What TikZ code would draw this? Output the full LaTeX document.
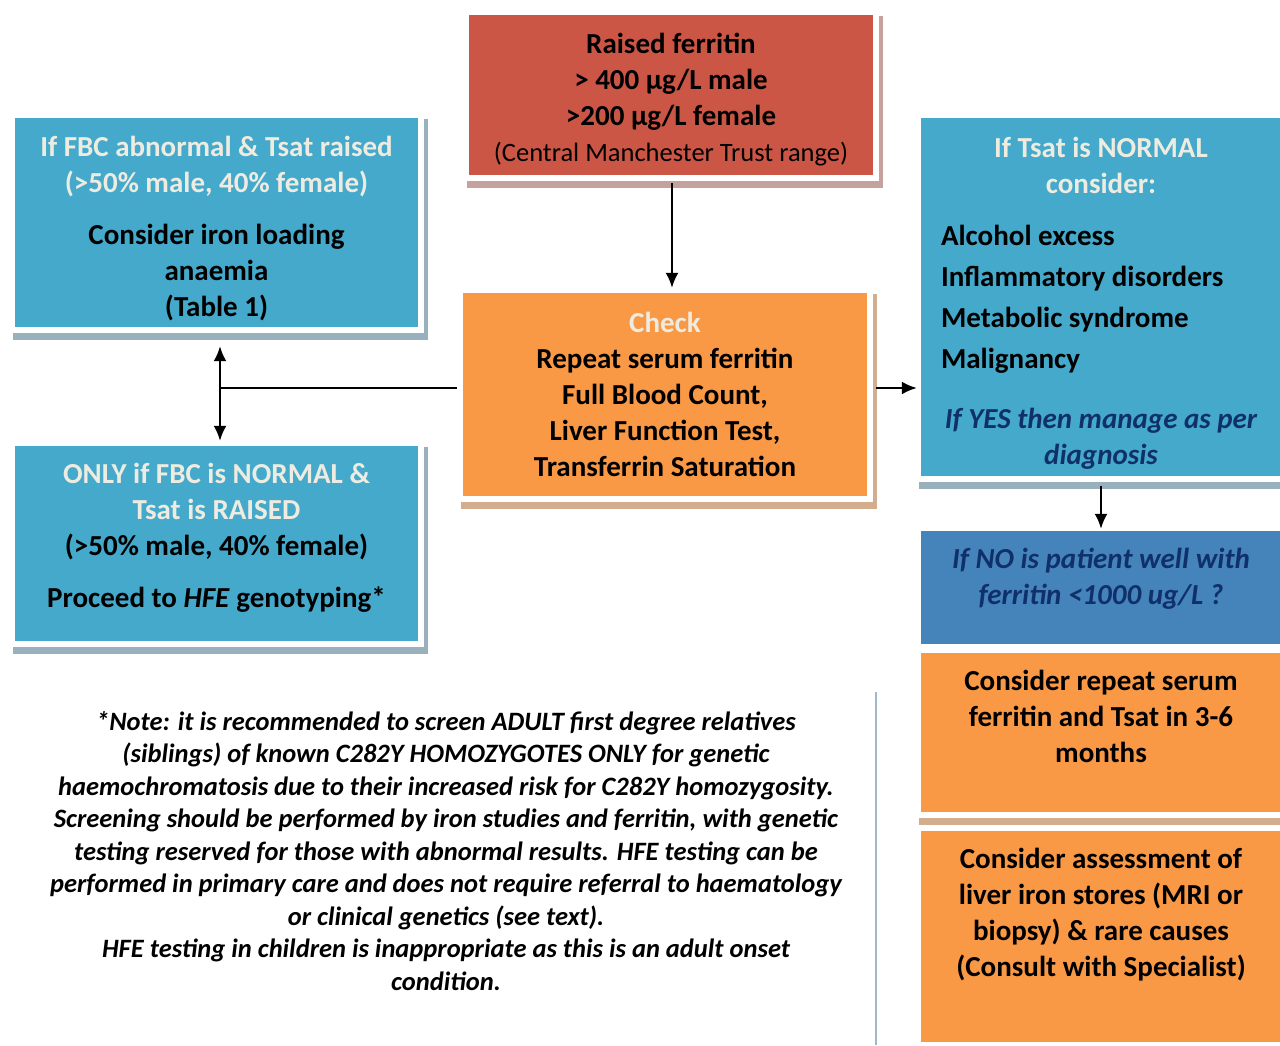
\documentclass[tikz,border=0pt]{standalone}
\usepackage{fontspec}
\setmainfont{Carlito}
\usepackage{tikz}
\usetikzlibrary{calc,arrows.meta}

\definecolor{ferritinred}{HTML}{CC5645}
\definecolor{checkorange}{HTML}{F99845}
\definecolor{tsatblue}{HTML}{44A9CB}
\definecolor{wellblue}{HTML}{4583BB}
\definecolor{creamtext}{HTML}{EEECE1}
\definecolor{navytext}{HTML}{10306A}
\definecolor{redshadow}{HTML}{C5A29E}
\definecolor{orangeshadow}{HTML}{D2AD8E}
\definecolor{blueshadow}{HTML}{98B1BC}
\definecolor{ruleblue}{HTML}{A3B7CA}

\begin{document}
\begin{tikzpicture}[x=1pt,y=-1pt, >={Latex[length=15pt,width=13pt]},
    card/.style={rectangle, fill=#1, inner sep=0pt},
    shadowed/.style={preaction={fill=#1, draw=#1, line width=12pt,
        transform canvas={shift={(4pt,-7pt)}}},
        preaction={draw=white, line width=12pt}},
    boxtext/.style={inner sep=0pt, align=center,
        font=\bfseries\fontsize{29}{36}\selectfont},
    link/.style={line width=2.2pt, ->}]
        \useasboundingbox (0,0) rectangle (1280,1045);
        \clip (0,0) rectangle (1280,1045);

        % top of the chart
        \node[card=ferritinred, shadowed=redshadow, minimum width=404pt, minimum height=160pt] (ferritin) at (671,95) {};
        \node[boxtext] (ferritintxt) at ([yshift=-5pt]ferritin.center)
            {Raised ferritin\\ > 400 µg/L male\\ >200 µg/L female\\
             {\mdseries\fontsize{26.5}{34}\selectfont (Central Manchester Trust range)}};
        \node[card=checkorange, shadowed=orangeshadow, minimum width=404pt, minimum height=203pt] (check) at (665,394.5) {};
        \node[boxtext] (checktxt) at (check.center)
            {\textcolor{creamtext}{Check}\\ Repeat serum ferritin\\ Full Blood Count,\\ Liver Function Test,\\ Transferrin Saturation};

        % left column
        \node[card=tsatblue, shadowed=blueshadow, minimum width=403pt, minimum height=209pt] (fbcabn) at (216.5,222.5) {};
        \node[boxtext] (fbcabntxt) at ([yshift=-6pt]fbcabn.center)
            {\textcolor{creamtext}{If FBC abnormal \& Tsat raised}\\ \textcolor{creamtext}{(>50\% male, 40\% female)}\\[16pt]
             Consider iron loading\\ anaemia\\ (Table 1)};
        \node[card=tsatblue, shadowed=blueshadow, minimum width=403pt, minimum height=195pt] (fbcnorm) at (216.5,543.5) {};
        \node[boxtext] (fbcnormtxt) at ([yshift=6pt]fbcnorm.center)
            {\textcolor{creamtext}{ONLY if FBC is NORMAL \&}\\ \textcolor{creamtext}{Tsat is RAISED}\\ (>50\% male, 40\% female)\\[16pt]
             Proceed to \textit{HFE} genotyping*};

        % right column
        \node[card=tsatblue, shadowed=blueshadow, minimum width=360pt, minimum height=358pt] (tsatnorm) at (1101,297) {};
        \node[boxtext] (tsatnormtxt) at ([yshift=-6pt]tsatnorm.center)
            {\textcolor{creamtext}{If Tsat is NORMAL}\\ \textcolor{creamtext}{consider:}\\[16pt]
             \makebox[320pt][l]{Alcohol excess}\\[5pt]
             \makebox[320pt][l]{Inflammatory disorders}\\[5pt]
             \makebox[320pt][l]{Metabolic syndrome}\\[5pt]
             \makebox[320pt][l]{Malignancy}\\[24pt]
             \textcolor{navytext}{\itshape If YES then manage as per}\\ \textcolor{navytext}{\itshape diagnosis}};
        \node[card=wellblue, minimum width=360pt, minimum height=113pt] (nowell) at (1101,587.5) {};
        \node[boxtext, anchor=north, text=navytext, font=\bfseries\itshape\fontsize{29}{36}\selectfont] (nowelltxt)
            at ([yshift=-17.5pt]nowell.north) {If NO is patient well with\\ ferritin <1000 ug/L ?};
        \node[card=checkorange, shadowed=orangeshadow, minimum width=360pt, minimum height=159pt] (retest) at (1101,732.5) {};
        \node[boxtext, anchor=north] (retesttxt) at ([yshift=-17pt]retest.north)
            {Consider repeat serum\\ ferritin and Tsat in 3-6\\ months};
        \node[card=checkorange, shadowed=orangeshadow, minimum width=360pt, minimum height=211pt] (liver) at (1101,936.5) {};
        \node[boxtext, anchor=north] (livertxt) at ([yshift=-17pt]liver.north)
            {Consider assessment of\\ liver iron stores (MRI or\\ biopsy) \& rare causes\\ (Consult with Specialist)};

        % connectors
        \coordinate (checkleft) at ([yshift=6.5pt]check.west);
        \coordinate (checkright) at ([yshift=6.5pt]check.east);
        \coordinate (split) at ([xshift=3.5pt]fbcabn.south |- checkleft);
        \draw[link, shorten <=8pt, shorten >=5pt] ([xshift=1pt]ferritin.south) -- ([xshift=1pt]ferritin.south |- check.north);
        \draw[link, shorten <=9pt, shorten >=4pt] (checkright) -- (checkright -| tsatnorm.west);
        \draw[line width=2.2pt, shorten <=6pt] (checkleft) -- (split);
        \draw[line width=2.2pt, <->, shorten <=19pt, shorten >=5pt]
            ([xshift=3.5pt]fbcabn.south) -- ([xshift=3.5pt]fbcnorm.north);
        \draw[link, shorten <=10pt, shorten >=2pt] (tsatnorm.south) -- (nowell.north);

        % footnote
        \node[align=center, inner sep=0pt, font=\bfseries\itshape\fontsize{26.5}{32.5}\selectfont] (note) at (446,851)
            {*Note: it is recommended to screen ADULT first degree relatives\\
             (siblings) of known C282Y HOMOZYGOTES ONLY for genetic\\
             haemochromatosis due to their increased risk for C282Y homozygosity.\\
             Screening should be performed by iron studies and ferritin, with genetic\\
             testing reserved for those with abnormal results. HFE testing can be\\
             performed in primary care and does not require referral to haematology\\
             or clinical genetics (see text).\\
             HFE testing in children is inappropriate as this is an adult onset\\
             condition.};
        \coordinate (ruletop) at (876,692);
        \coordinate (rulebot) at (876,1045);
        \draw[ruleblue, line width=2.5pt] (ruletop) -- (rulebot);
\end{tikzpicture}
\end{document}
